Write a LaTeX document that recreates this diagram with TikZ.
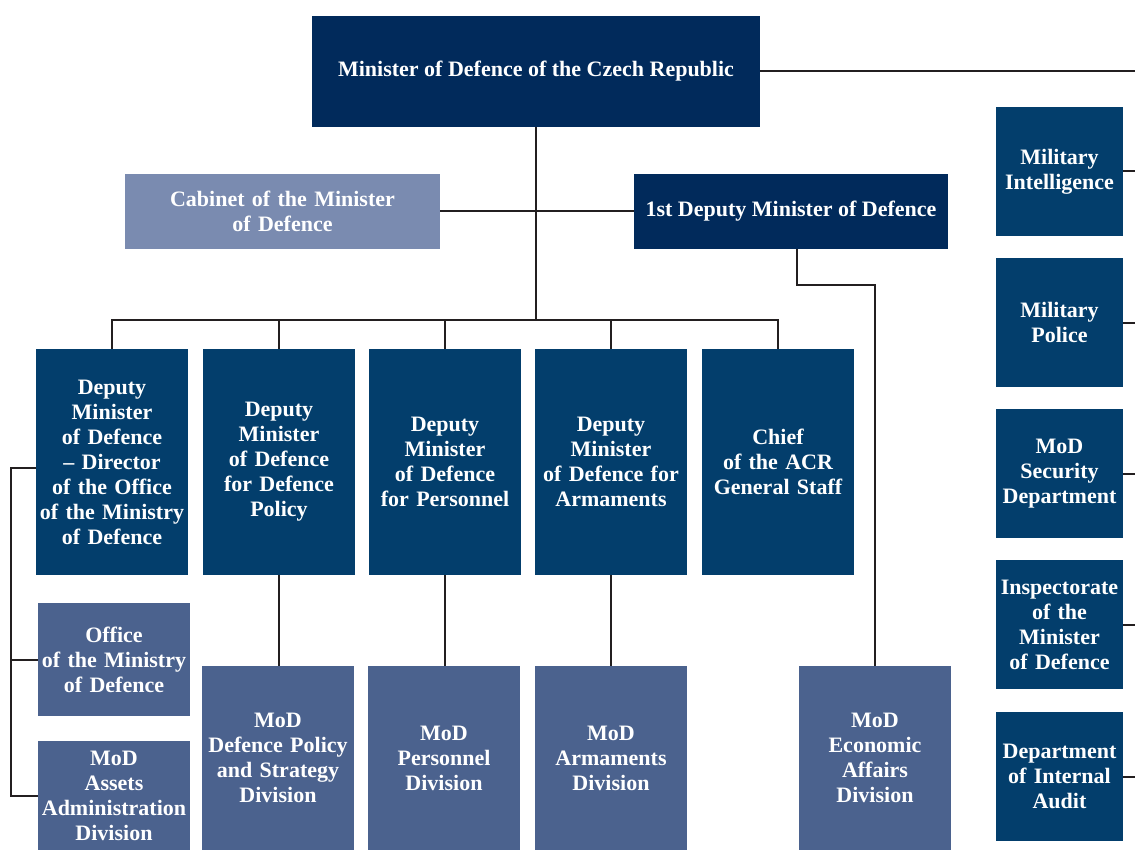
\documentclass[tikz,border=0pt]{standalone}
\usepackage{fontspec}
\setmainfont{Liberation Serif}
\usepackage{tikz}
\definecolor{navy}{HTML}{012A5B}
\definecolor{deputy}{HTML}{033E6C}
\definecolor{division}{HTML}{4B628E}
\definecolor{cabinet}{HTML}{7A8BB0}
\definecolor{wire}{HTML}{231F20}

\begin{document}
\begin{tikzpicture}[x=1pt,y=-1pt,
    every node/.style={inner sep=0pt,text=white,align=center,font=\bfseries\fontsize{22}{25}\selectfont},
    box/.style={fill=#1,minimum width=152,minimum height=226,text width=150},
    link/.style={draw=wire,line width=2pt}]
                \useasboundingbox (0,0) rectangle (1135,850);
                \node[fill=navy,minimum width=448,minimum height=111] (min) at (536,71.5) {Minister of Defence of the Czech Republic};
                \node[fill=cabinet,minimum width=315,minimum height=75,text width=310] (cab) at (282.5,211.5) {Cabinet of the Minister\\of Defence};
                \node[fill=navy,minimum width=314,minimum height=75] (fdm) at (791,211.5) {1st Deputy Minister of Defence};

                \node[box=deputy] (d1) at (112,462) {Deputy\\Minister\\of Defence\\-- Director\\of the Office\\of the Ministry\\of Defence};
                \node[box=deputy] (d2) at (279,462) {Deputy\\Minister\\of Defence\\for Defence\\Policy};
                \node[box=deputy] (d3) at (445,462) {Deputy\\Minister\\of Defence\\for Personnel};
                \node[box=deputy] (d4) at (611,462) {Deputy\\Minister\\of Defence for\\Armaments};
                \node[box=deputy] (d5) at (778,462) {Chief\\of the ACR\\General Staff};

                \node[box=division,minimum height=113] (off) at (114,659.5) {Office\\of the Ministry\\of Defence};
                \node[box=division,minimum height=109] (ass) at (114,795.5) {MoD\\Assets\\Administration\\Division};
                \node[box=division,minimum height=184] (dv2) at (278,758) {MoD\\Defence Policy\\and Strategy\\Division};
                \node[box=division,minimum height=184] (dv3) at (444,758) {MoD\\Personnel\\Division};
                \node[box=division,minimum height=184] (dv4) at (611,758) {MoD\\Armaments\\Division};
                \node[box=division,minimum height=184] (eco) at (875,758) {MoD\\Economic\\Affairs\\Division};

                \foreach \name/\y/\txt in {r1/171.5/{Military\\Intelligence},r2/322.5/{Military\\Police},r3/473.5/{MoD\\Security\\Department},r4/624.5/{Inspectorate\\of the\\Minister\\of Defence},r5/776.5/{Department\\of Internal\\Audit}}
                    \node[box=deputy,minimum width=127,minimum height=129,text width=127] (\name) at (1059.5,\y) {\txt};

                \coordinate (bar) at (536,320);
                \coordinate (lft) at (11,468);
                \coordinate (redge) at (1135,71.5);

                \draw[link] (min.south) -- (bar);
                \draw[link] (cab.east) -- (fdm.west);
                \draw[link] (d1.north) |- (bar) -| (d5.north);
                \foreach \i in {2,3,4}{
                    \draw[link] (d\i.north) -- (d\i.north |- bar);
                    \draw[link] (d\i.south) -- (d\i.south |- dv\i.north);
                }
                \draw[link] ([xshift=6]fdm.south) -- ++(0,36) -| (eco.north);
                \draw[link] (d1.west |- lft) -- (lft) |- (ass.west);
                \draw[link] (off.west) -- (off.west -| lft);
                \draw[link] (min.east) -- (redge);
                \foreach \i in {1,...,5}
                    \draw[link] (r\i.east) -- (r\i.east -| redge);
            \end{tikzpicture}
\end{document}
